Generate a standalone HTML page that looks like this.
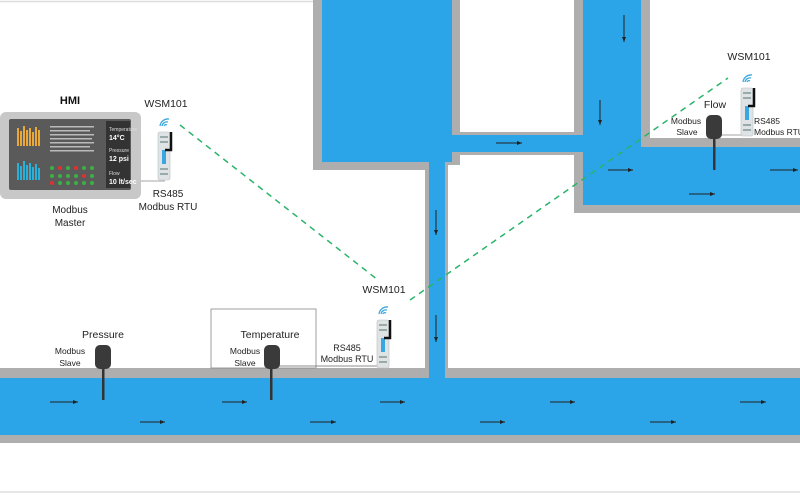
<!DOCTYPE html>
<html><head><meta charset="utf-8"><style>
body{margin:0;background:#fff;}
svg{display:block;font-family:"Liberation Sans",sans-serif;}
</style></head><body>
<svg width="800" height="496" viewBox="0 0 800 496">
<defs>
<marker id="a" markerWidth="6" markerHeight="6" refX="5" refY="3" orient="auto"><path d="M0,1 L5,3 L0,5z" fill="#222"/></marker>
<g id="dev">
  <rect x="0" y="0" width="12" height="48" rx="2" fill="#dfe3e6" stroke="#b8bec2" stroke-width="0.6"/>
  <rect x="2" y="4" width="8" height="2" fill="#9aa"/>
  <rect x="2" y="9" width="8" height="2" fill="#9aa"/>
  <rect x="4" y="18" width="4" height="14" fill="#3aa7e0"/>
  <rect x="2" y="36" width="8" height="2" fill="#9aa"/>
  <rect x="2" y="41" width="8" height="2" fill="#9aa"/>
  <path d="M7,18 H13 V0" fill="none" stroke="#111" stroke-width="2.5"/>
  <path d="M4,-6 a5,5 0 0 1 6,-4 M2,-6 a8,8 0 0 1 9,-7 M6,-6 a2,2 0 0 1 3,-1" fill="none" stroke="#3aa7e0" stroke-width="1.3"/>
</g>
</defs>
<line x1="0" y1="1.5" x2="800" y2="1.5" stroke="#ddd" stroke-width="1.5"/>
<line x1="0" y1="492" x2="800" y2="492" stroke="#e6e6e6" stroke-width="2"/>
<!-- gray walls -->
<g fill="#aeaeae">
<rect x="313" y="0" width="147" height="170"/>
<rect x="425" y="150" width="23" height="230"/>
<rect x="445" y="132" width="140" height="23"/>
<rect x="574" y="0" width="76" height="213"/>
<rect x="574" y="138" width="226" height="75"/>
<rect x="0" y="368" width="800" height="75"/>
</g>
<g fill="#2ba4e8">
<rect x="322" y="0" width="130" height="162"/>
<rect x="429" y="150" width="16" height="230"/>
<rect x="450" y="135" width="135" height="17"/>
<rect x="583" y="0" width="58" height="205"/>
<rect x="583" y="147" width="217" height="58"/>
<rect x="0" y="378" width="800" height="57"/>
</g>
<g fill="#fff">
<rect x="460" y="0" width="114" height="132"/>
<rect x="460" y="155" width="114" height="10"/>
<rect x="448" y="165" width="126" height="203"/>
<rect x="650" y="0" width="150" height="138"/>
</g>
<!-- arrows -->
<g stroke="#222" stroke-width="1" marker-end="url(#a)">
<line x1="50" y1="402" x2="78" y2="402"/><line x1="222" y1="402" x2="247" y2="402"/><line x1="380" y1="402" x2="405" y2="402"/><line x1="550" y1="402" x2="575" y2="402"/><line x1="740" y1="402" x2="766" y2="402"/>
<line x1="140" y1="422" x2="165" y2="422"/><line x1="310" y1="422" x2="336" y2="422"/><line x1="480" y1="422" x2="505" y2="422"/><line x1="650" y1="422" x2="676" y2="422"/>
<line x1="436" y1="210" x2="436" y2="235"/><line x1="436" y1="315" x2="436" y2="342"/>
<line x1="624" y1="15" x2="624" y2="42"/><line x1="600" y1="100" x2="600" y2="125"/>
<line x1="496" y1="143" x2="522" y2="143"/>
<line x1="608" y1="170" x2="633" y2="170"/><line x1="770" y1="170" x2="798" y2="170"/><line x1="689" y1="194" x2="715" y2="194"/>
</g>
<!-- dashed links -->
<g stroke="#2bb36a" stroke-width="1.5" stroke-dasharray="6,5" fill="none">
<line x1="180" y1="125" x2="378" y2="280"/>
<line x1="410" y1="300" x2="728" y2="78"/>
</g>
<!-- HMI -->
<rect x="0" y="112" width="141" height="87" rx="6" fill="#c8c8c8"/>
<rect x="9" y="119" width="122" height="71" rx="2" fill="#5a5a5a"/>
<rect x="106" y="121" width="24" height="67" fill="#333"/>
<g fill="#e9a93a"><rect x="17" y="128" width="2" height="18"/><rect x="20" y="131" width="2" height="15"/><rect x="23" y="126" width="2" height="20"/><rect x="26" y="130" width="2" height="16"/><rect x="29" y="128" width="2" height="18"/><rect x="32" y="132" width="2" height="14"/><rect x="35" y="127" width="2" height="19"/><rect x="38" y="130" width="2" height="16"/></g>
<g fill="#2bb0d8"><rect x="17" y="163" width="2" height="17"/><rect x="20" y="166" width="2" height="14"/><rect x="23" y="161" width="2" height="19"/><rect x="26" y="165" width="2" height="15"/><rect x="29" y="163" width="2" height="17"/><rect x="32" y="167" width="2" height="13"/><rect x="35" y="164" width="2" height="16"/><rect x="38" y="168" width="2" height="12"/></g>
<g fill="#bbb"><rect x="50" y="126" width="44" height="1.5"/><rect x="50" y="130" width="40" height="1.5"/><rect x="50" y="134" width="44" height="1.5"/><rect x="50" y="138" width="42" height="1.5"/><rect x="50" y="142" width="44" height="1.5"/><rect x="50" y="146" width="40" height="1.5"/><rect x="50" y="150" width="44" height="1.5"/></g>
<g fill="#3cb043"><circle cx="52" cy="168" r="2"/><circle cx="68" cy="168" r="2"/><circle cx="84" cy="168" r="2"/><circle cx="92" cy="168" r="2"/><circle cx="60" cy="176" r="2"/><circle cx="68" cy="176" r="2"/><circle cx="76" cy="176" r="2"/><circle cx="92" cy="176" r="2"/><circle cx="60" cy="183" r="2"/><circle cx="68" cy="183" r="2"/><circle cx="76" cy="183" r="2"/><circle cx="84" cy="183" r="2"/><circle cx="92" cy="183" r="2"/><circle cx="52" cy="176" r="2"/></g>
<g fill="#e03030"><circle cx="60" cy="168" r="2"/><circle cx="76" cy="168" r="2"/><circle cx="84" cy="176" r="2"/><circle cx="52" cy="183" r="2"/></g>
<g fill="#ddd" font-size="5"><text x="109" y="131">Temperature</text><text x="109" y="152">Pressure</text><text x="109" y="175">Flow</text></g>
<g fill="#fff" font-size="7" font-weight="bold"><text x="109" y="140">14°C</text><text x="109" y="161">12 psi</text><text x="109" y="184">10 lt/sec</text></g>
<text x="70" y="104" font-size="11" font-weight="bold" text-anchor="middle" fill="#111">HMI</text>
<g font-size="10" fill="#222" text-anchor="middle"><text x="70" y="213">Modbus</text><text x="70" y="226">Master</text></g>
<!-- WSM left -->
<line x1="141" y1="181" x2="165" y2="181" stroke="#888" stroke-width="0.8"/>
<text x="166" y="107" font-size="10.5" text-anchor="middle" fill="#222">WSM101</text>
<use href="#dev" x="158" y="132"/>
<g font-size="10" fill="#222" text-anchor="middle"><text x="168" y="197">RS485</text><text x="168" y="210">Modbus RTU</text></g>
<!-- middle -->
<rect x="211" y="309" width="105" height="59" fill="none" stroke="#888" stroke-width="0.8"/>
<line x1="272" y1="366" x2="381" y2="366" stroke="#666" stroke-width="0.8"/>
<text x="384" y="293" font-size="10.5" text-anchor="middle" fill="#222">WSM101</text>
<use href="#dev" x="377" y="320"/>
<g font-size="9" fill="#222" text-anchor="middle"><text x="347" y="351">RS485</text><text x="347" y="362">Modbus RTU</text></g>
<text x="270" y="338" font-size="10.5" text-anchor="middle" fill="#222">Temperature</text>
<g font-size="8.5" fill="#222" text-anchor="middle"><text x="245" y="354">Modbus</text><text x="245" y="366">Slave</text></g>
<rect x="270" y="366" width="2.5" height="34" fill="#333"/>
<rect x="264" y="345" width="16" height="24" rx="5" fill="#3a3a3a"/>
<!-- pressure -->
<text x="103" y="338" font-size="10.5" text-anchor="middle" fill="#222">Pressure</text>
<g font-size="8.5" fill="#222" text-anchor="middle"><text x="70" y="354">Modbus</text><text x="70" y="366">Slave</text></g>
<rect x="102" y="366" width="2.5" height="34" fill="#333"/>
<rect x="95" y="345" width="16" height="24" rx="5" fill="#3a3a3a"/>
<!-- flow -->
<line x1="720" y1="135" x2="745" y2="135" stroke="#888" stroke-width="0.8"/>
<line x1="745" y1="127" x2="745" y2="135" stroke="#888" stroke-width="0.8"/>
<text x="749" y="60" font-size="10.5" text-anchor="middle" fill="#222">WSM101</text>
<use href="#dev" x="741" y="88"/>
<text x="715" y="108" font-size="10.5" text-anchor="middle" fill="#222">Flow</text>
<g font-size="8.5" fill="#222"><text x="686" y="124" text-anchor="middle">Modbus</text><text x="687" y="135" text-anchor="middle">Slave</text><text x="754" y="124">RS485</text><text x="754" y="135">Modbus RTU</text></g>
<rect x="713" y="136" width="2.5" height="34" fill="#333"/>
<rect x="706" y="115" width="16" height="24" rx="5" fill="#3a3a3a"/>
</svg>
</body></html>
